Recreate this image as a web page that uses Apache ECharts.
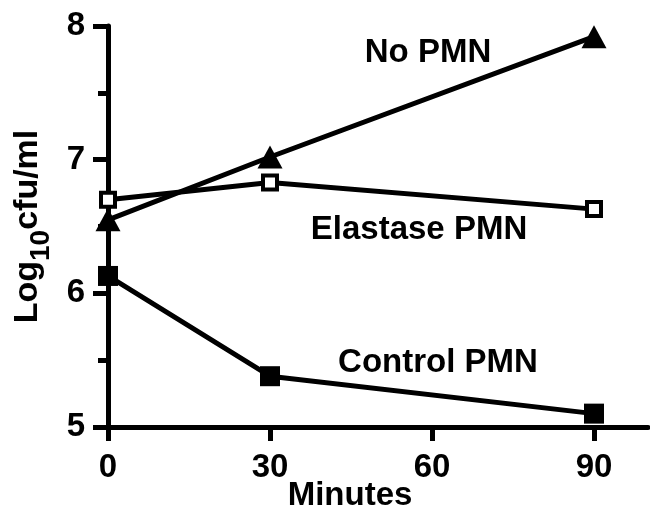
<!DOCTYPE html>
<html>
<head>
<meta charset="utf-8">
<script src="https://cdn.jsdelivr.net/npm/echarts@6/dist/echarts.min.js"></script>
<style>
html,body{margin:0;padding:0;background:#fff;}
#c{width:650px;height:508px;}
</style>
</head>
<body>
<div id="c"></div>
<script>
const minutes = [0, 30, 90];
const noPMN = [6.55, 7.02, 7.92];
const elastasePMN = [6.70, 6.83, 6.63];
const controlPMN = [6.13, 5.38, 5.10];
const xTicks = [0, 30, 60, 90];
const yTicks = [5, 6, 7, 8];
const seriesNames = ['No PMN', 'Elastase PMN', 'Control PMN'];

const FONT = '"Liberation Sans", Arial, sans-serif';
const pair = arr => minutes.map((m, i) => [m, arr[i]]);

const chart = echarts.init(document.getElementById('c'));
chart.setOption({
  animation: false,
  backgroundColor: '#fff',
  grid: { left: 108, right: 2, top: 26, bottom: 81, containLabel: false, outerBoundsMode: 'none' },
  xAxis: {
    type: 'value', min: 0, max: 100, interval: 30,
    name: 'Minutes', nameLocation: 'middle', nameGap: 52, nameMoveOverlap: false,
    nameTextStyle: { fontFamily: FONT, fontWeight: 'bold', fontSize: 33, color: '#000', padding: [0, 56, 0, 0] },
    axisLine: { show: true, lineStyle: { color: '#000', width: 5 } },
    axisTick: { show: true, length: 14, lineStyle: { color: '#000', width: 5 }, customValues: xTicks },
    axisLabel: { fontFamily: FONT, fontWeight: 'bold', fontSize: 33, color: '#000', margin: 24, customValues: xTicks },
    splitLine: { show: false }
  },
  yAxis: {
    type: 'value', min: 5, max: 8, interval: 1,
    name: '{a|Log}{b|10}{a|cfu/ml}', nameLocation: 'middle', nameGap: 53, nameMoveOverlap: false,
    nameTextStyle: {
      rich: {
        a: { fontFamily: FONT, fontWeight: 'bold', fontSize: 34, color: '#000', lineHeight: 34, verticalAlign: 'top' },
        b: { fontFamily: FONT, fontWeight: 'bold', fontSize: 28, color: '#000', lineHeight: 44, verticalAlign: 'bottom' }
      }
    },
    axisLine: { show: true, lineStyle: { color: '#000', width: 5 } },
    axisTick: { show: true, length: 15, lineStyle: { color: '#000', width: 5 }, customValues: yTicks },
    minorTick: { show: true, splitNumber: 2, length: 10, lineStyle: { color: '#000', width: 5 } },
    axisLabel: { fontFamily: FONT, fontWeight: 'bold', fontSize: 33, color: '#000', margin: 23, customValues: yTicks },
    splitLine: { show: false }
  },
  series: [
    {
      name: seriesNames[0], type: 'line', data: pair(noPMN),
      symbol: 'triangle', symbolSize: [25, 23],
      lineStyle: { color: '#000', width: 5 },
      itemStyle: { color: '#000' }
    },
    {
      name: seriesNames[1], type: 'line', data: pair(elastasePMN),
      symbol: 'rect', symbolSize: 14,
      lineStyle: { color: '#000', width: 5 },
      itemStyle: { color: '#fff', borderColor: '#000', borderWidth: 4 },
      z: 3
    },
    {
      name: seriesNames[2], type: 'line', data: pair(controlPMN),
      symbol: 'rect', symbolSize: 20,
      lineStyle: { color: '#000', width: 5 },
      itemStyle: { color: '#000' }
    }
  ],
  graphic: [
    { type: 'text', x: 428, y: 53, style: { text: seriesNames[0], font: 'bold 33px ' + FONT, fill: '#000', align: 'center', verticalAlign: 'middle' } },
    { type: 'text', x: 419, y: 230, style: { text: seriesNames[1], font: 'bold 33px ' + FONT, fill: '#000', align: 'center', verticalAlign: 'middle' } },
    { type: 'text', x: 438, y: 363, style: { text: seriesNames[2], font: 'bold 33px ' + FONT, fill: '#000', align: 'center', verticalAlign: 'middle' } }
  ]
});
</script>
</body>
</html>
